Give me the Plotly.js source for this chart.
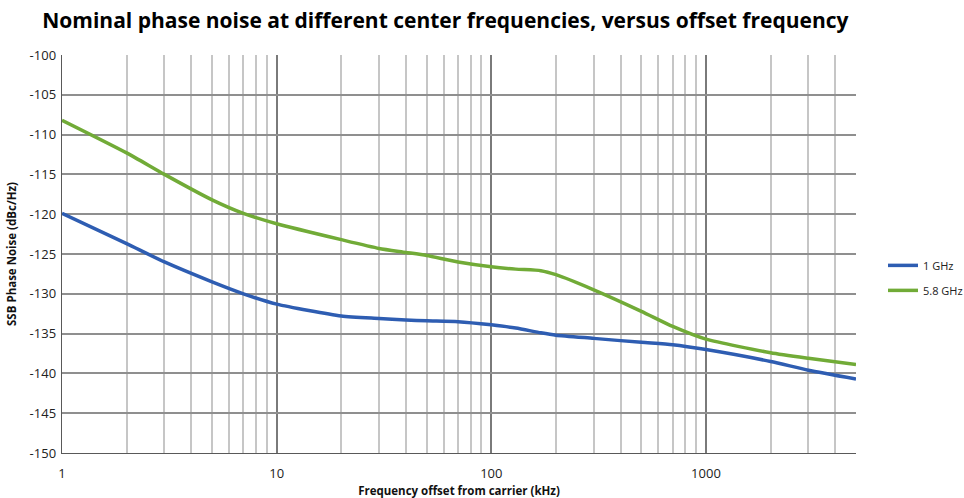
<!DOCTYPE html>
<html>
<head>
<meta charset="utf-8">
<script src="https://cdn.plot.ly/plotly-3.0.1.min.js"></script>
<style>html,body{margin:0;padding:0;background:#fff;}#chart{width:964px;height:498px;}</style>
</head>
<body>
<div id="chart"></div>
<script>
// Offset frequency (kHz)
var offsets = [1, 2, 3, 5, 7, 10, 20, 30, 40, 50, 70, 100, 130, 170, 200, 300, 500, 700, 1000, 2000, 3000, 5000];
// SSB phase noise (dBc/Hz)
var noise1GHz  = [-119.9, -123.7, -126.0, -128.5, -130.0, -131.3, -132.8, -133.1, -133.3, -133.4, -133.5, -133.9, -134.3, -134.9, -135.2, -135.6, -136.1, -136.4, -137.0, -138.5, -139.6, -140.7];
var noise58GHz = [-108.2, -112.3, -115.0, -118.2, -119.9, -121.2, -123.2, -124.3, -124.8, -125.2, -126.0, -126.6, -126.9, -127.1, -127.6, -129.5, -132.2, -134.1, -135.7, -137.4, -138.1, -138.9];
var seriesNames = ['1 GHz', '5.8 GHz'];
var yTicks = [-100, -105, -110, -115, -120, -125, -130, -135, -140, -145, -150];
var xTicks = [1, 10, 100, 1000];

var minorVals = [];
xTicks.forEach(function (d) {
  for (var k = 2; k <= 9; k++) { if (k * d <= 5000) minorVals.push(k * d); }
});

var font = '"Open Sans", "Liberation Sans", sans-serif';

var traces = [
  {x: offsets, y: noise1GHz, name: seriesNames[0], legendgroup: 'a', mode: 'lines', line: {color: '#2e5db2', width: 3.5, shape: 'spline', smoothing: 0.6}},
  {x: offsets, y: noise58GHz, name: seriesNames[1], legendgroup: 'b', mode: 'lines', line: {color: '#71ab37', width: 3.5, shape: 'spline', smoothing: 0.6}}
];

var layout = {
  width: 964, height: 498,
  margin: {l: 62, r: 108, t: 55, b: 45, autoexpand: false},
  paper_bgcolor: '#ffffff', plot_bgcolor: '#ffffff',
  font: {family: font, color: '#222'},
  title: {text: 'Nominal phase noise at different center frequencies, versus offset frequency',
          font: {family: font, size: 21, color: '#000', weight: 'bold'}, x: 0.462, xanchor: 'center', y: 0.958, yanchor: 'middle'},
  xaxis: {
    type: 'log', range: [0, Math.log10(5000)],
    tickmode: 'array', tickvals: xTicks, ticktext: xTicks.map(String),
    showgrid: true, gridcolor: '#7a7a7a', gridwidth: 2,
    minor: {tickmode: 'array', tickvals: minorVals, showgrid: true, gridcolor: '#c6c6c6', gridwidth: 2, ticks: ''},
    showline: true, linecolor: '#595959', linewidth: 1.3, mirror: false,
    ticks: '', tickfont: {size: 13, color: '#222'}, ticklabelstandoff: 8,
    zeroline: false,
    title: {text: 'Frequency offset from carrier (kHz)', font: {size: 11.5, color: '#111', weight: 'bold'}, standoff: 7}
  },
  yaxis: {
    range: [-150, -100], tickmode: 'array', tickvals: yTicks, ticktext: yTicks.map(String),
    showgrid: true, gridcolor: '#8f8f8f', gridwidth: 2,
    showline: true, linecolor: '#595959', linewidth: 1.3,
    ticks: '', tickfont: {size: 13, color: '#222'}, ticklabelstandoff: 2, zeroline: false,
    title: {text: 'SSB Phase Noise (dBc/Hz)', font: {size: 11.5, color: '#111', weight: 'bold'}, standoff: 10}
  },
  legend: {x: 1.034, xanchor: 'left', y: 0.44, yanchor: 'middle', font: {size: 11, color: '#222'},
           bgcolor: 'rgba(0,0,0,0)', itemwidth: 30, tracegroupgap: 6},
  showlegend: true
};

Plotly.newPlot('chart', traces, layout, {displayModeBar: false, staticPlot: true});
</script>
</body>
</html>
